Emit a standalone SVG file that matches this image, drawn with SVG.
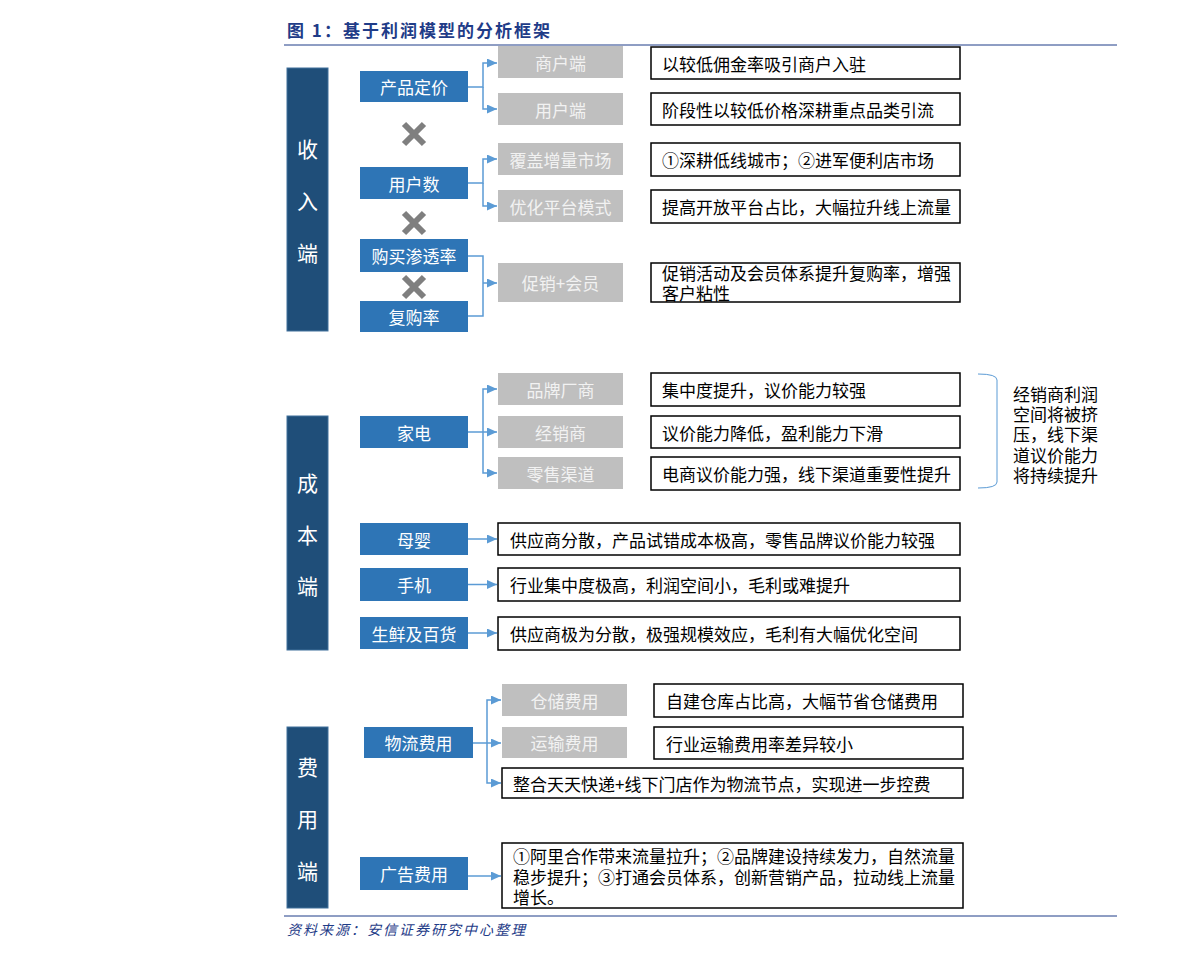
<svg xmlns="http://www.w3.org/2000/svg" width="1191" height="958" viewBox="0 0 1191 958">
<style>
text{font-family:"Noto Sans CJK SC","Liberation Sans",sans-serif;}
.side{fill:#1F4E79;stroke:#41719C;stroke-width:1;}
.sidet{fill:#FFFFFF;font-size:21px;text-anchor:middle;dominant-baseline:central;}
.blue{fill:#2E75B6;}
.bt{fill:#FFFFFF;font-size:17px;text-anchor:middle;dominant-baseline:central;}
.gray{fill:#BFBFBF;}
.gt{fill:#F2F2F2;font-size:17px;text-anchor:middle;dominant-baseline:central;}
.wb{fill:#FFFFFF;stroke:#000000;stroke-width:1.5;}
.wt{fill:#000000;font-size:17px;dominant-baseline:central;}
.conn{fill:none;stroke:#5B9BD5;stroke-width:1.5;}
.x{stroke:#7F7F7F;stroke-width:6;}
.hdr{fill:#1F3C88;}
</style>
<defs>
<marker id="arr" markerWidth="11" markerHeight="10" refX="10" refY="4.5" orient="auto" markerUnits="userSpaceOnUse">
<path d="M0,0 L10,4.5 L0,9 z" fill="#5B9BD5"/>
</marker>
</defs>

<g id="title">
<text x="287" y="37" class="hdr" font-size="17" font-weight="bold" letter-spacing="2">图 1：基于利润模型的分析框架</text>
<line x1="284" y1="45" x2="1117" y2="45" stroke="#1F3C88" stroke-width="1"/>
</g>

<g id="source">
<line x1="284" y1="916" x2="1117" y2="916" stroke="#1F3C88" stroke-width="1"/>
<text x="287" y="935" class="hdr" font-size="14" font-style="italic" letter-spacing="2">资料来源：安信证券研究中心整理</text>
</g>

<!-- side labels -->
<g id="side-revenue"><rect x="287" y="68" width="41" height="263" class="side"/>
<text x="307.5" y="148" class="sidet">收</text><text x="307.5" y="200" class="sidet">入</text><text x="307.5" y="252" class="sidet">端</text></g>
<g id="side-cost"><rect x="287" y="416" width="41" height="234" class="side"/>
<text x="307.5" y="482" class="sidet">成</text><text x="307.5" y="534" class="sidet">本</text><text x="307.5" y="585" class="sidet">端</text></g>
<g id="side-expense"><rect x="287" y="727" width="41" height="181" class="side"/>
<text x="307.5" y="766" class="sidet">费</text><text x="307.5" y="818" class="sidet">用</text><text x="307.5" y="870" class="sidet">端</text></g>

<!-- blue nodes -->
<g id="n-pricing"><rect x="360" y="71" width="108" height="31" class="blue"/><text x="414" y="86.5" class="bt">产品定价</text></g>
<g id="n-users"><rect x="360" y="167" width="108" height="32" class="blue"/><text x="414" y="183" class="bt">用户数</text></g>
<g id="n-penetration"><rect x="360" y="239" width="108" height="33" class="blue"/><text x="414" y="255.5" class="bt">购买渗透率</text></g>
<g id="n-repurchase"><rect x="360" y="301" width="108" height="31" class="blue"/><text x="414" y="316.5" class="bt">复购率</text></g>
<g id="n-appliance"><rect x="360" y="416" width="108" height="32" class="blue"/><text x="414" y="432" class="bt">家电</text></g>
<g id="n-baby"><rect x="360" y="523" width="108" height="32" class="blue"/><text x="414" y="539" class="bt">母婴</text></g>
<g id="n-phone"><rect x="360" y="568" width="108" height="33" class="blue"/><text x="414" y="584.5" class="bt">手机</text></g>
<g id="n-fresh"><rect x="360" y="617" width="108" height="32" class="blue"/><text x="414" y="633" class="bt">生鲜及百货</text></g>
<g id="n-logistics"><rect x="364" y="727" width="109" height="31" class="blue"/><text x="418.5" y="742.5" class="bt">物流费用</text></g>
<g id="n-ads"><rect x="360" y="857" width="108" height="33" class="blue"/><text x="414" y="873.5" class="bt">广告费用</text></g>

<!-- X marks -->
<g id="x-marks">
<path class="x" d="M404,124 L424,144 M424,124 L404,144"/>
<path class="x" d="M404,213 L424,233 M424,213 L404,233"/>
<path class="x" d="M404,277 L424,297 M424,277 L404,297"/>
</g>

<!-- gray nodes -->
<g id="g-merchant"><rect x="498" y="46" width="125" height="32" class="gray"/><text x="560.5" y="62" class="gt">商户端</text></g>
<g id="g-user"><rect x="498" y="93" width="125" height="32" class="gray"/><text x="560.5" y="109" class="gt">用户端</text></g>
<g id="g-cover"><rect x="498" y="143" width="125" height="32" class="gray"/><text x="560.5" y="159" class="gt">覆盖增量市场</text></g>
<g id="g-optimize"><rect x="498" y="190" width="125" height="32" class="gray"/><text x="560.5" y="206" class="gt">优化平台模式</text></g>
<g id="g-promo"><rect x="498" y="263" width="125" height="39" class="gray"/><text x="560.5" y="282.5" class="gt">促销+会员</text></g>
<g id="g-brand"><rect x="498" y="373" width="125" height="32" class="gray"/><text x="560.5" y="389" class="gt">品牌厂商</text></g>
<g id="g-dealer"><rect x="498" y="416" width="125" height="32" class="gray"/><text x="560.5" y="432" class="gt">经销商</text></g>
<g id="g-retail"><rect x="498" y="457" width="125" height="32" class="gray"/><text x="560.5" y="473" class="gt">零售渠道</text></g>
<g id="g-storage"><rect x="502" y="684" width="125" height="32" class="gray"/><text x="564.5" y="700" class="gt">仓储费用</text></g>
<g id="g-transport"><rect x="502" y="727" width="125" height="31" class="gray"/><text x="564.5" y="742.5" class="gt">运输费用</text></g>

<!-- white description boxes -->
<g id="d1"><rect x="651" y="47" width="309" height="32" class="wb"/><text x="662" y="63" class="wt">以较低佣金率吸引商户入驻</text></g>
<g id="d2"><rect x="651" y="93" width="309" height="32" class="wb"/><text x="662" y="109.5" class="wt">阶段性以较低价格深耕重点品类引流</text></g>
<g id="d3"><rect x="651" y="143" width="309" height="33" class="wb"/><text x="662" y="159.5" class="wt">①深耕低线城市；②进军便利店市场</text></g>
<g id="d4"><rect x="651" y="190" width="309" height="33" class="wb"/><text x="662" y="206.5" class="wt">提高开放平台占比，大幅拉升线上流量</text></g>
<g id="d5"><rect x="651" y="263" width="309" height="39" class="wb"/><text x="662" y="272" class="wt">促销活动及会员体系提升复购率，增强</text><text x="662" y="292" class="wt">客户粘性</text></g>
<g id="d6"><rect x="651" y="373" width="309" height="33" class="wb"/><text x="662" y="389.5" class="wt">集中度提升，议价能力较强</text></g>
<g id="d7"><rect x="651" y="416" width="309" height="32" class="wb"/><text x="662" y="432" class="wt">议价能力降低，盈利能力下滑</text></g>
<g id="d8"><rect x="651" y="457" width="309" height="33" class="wb"/><text x="662" y="473.5" class="wt">电商议价能力强，线下渠道重要性提升</text></g>
<g id="d9"><rect x="498" y="523" width="462" height="32" class="wb"/><text x="510" y="539" class="wt">供应商分散，产品试错成本极高，零售品牌议价能力较强</text></g>
<g id="d10"><rect x="498" y="568" width="462" height="33" class="wb"/><text x="510" y="584.5" class="wt">行业集中度极高，利润空间小，毛利或难提升</text></g>
<g id="d11"><rect x="498" y="617" width="462" height="33" class="wb"/><text x="510" y="633.5" class="wt">供应商极为分散，极强规模效应，毛利有大幅优化空间</text></g>
<g id="d12"><rect x="654" y="684" width="309" height="33" class="wb"/><text x="666" y="700.5" class="wt">自建仓库占比高，大幅节省仓储费用</text></g>
<g id="d13"><rect x="654" y="727" width="309" height="32" class="wb"/><text x="666" y="743" class="wt">行业运输费用率差异较小</text></g>
<g id="d14"><rect x="502" y="768" width="461" height="30" class="wb"/><text x="513" y="783" class="wt">整合天天快递+线下门店作为物流节点，实现进一步控费</text></g>
<g id="d15"><rect x="502" y="843" width="461" height="65" class="wb"/>
<text x="513" y="855" class="wt">①阿里合作带来流量拉升；②品牌建设持续发力，自然流量</text>
<text x="513" y="876" class="wt">稳步提升；③打通会员体系，创新营销产品，拉动线上流量</text>
<text x="513" y="896" class="wt">增长。</text></g>

<!-- bracket note -->
<g id="note">
<path d="M978,374 Q997,374 997,380 V482 Q997,488 978,488" fill="none" stroke="#5B9BD5" stroke-width="1"/>
<text x="1013" y="393" class="wt">经销商利润</text>
<text x="1013" y="413" class="wt">空间将被挤</text>
<text x="1013" y="433.5" class="wt">压，线下渠</text>
<text x="1013" y="454" class="wt">道议价能力</text>
<text x="1013" y="474" class="wt">将持续提升</text>
</g>

<!-- connectors -->
<g id="connectors">
<path class="conn" d="M468,87 H483 V63 H497" marker-end="url(#arr)"/>
<path class="conn" d="M483,87 V109 H497" marker-end="url(#arr)"/>
<path class="conn" d="M468,183 H483 V159 H497" marker-end="url(#arr)"/>
<path class="conn" d="M483,183 V206 H497" marker-end="url(#arr)"/>
<path class="conn" d="M468,256 H483 V316 H468"/>
<path class="conn" d="M483,283 H497" marker-end="url(#arr)"/>
<path class="conn" d="M468,432 H497" marker-end="url(#arr)"/>
<path class="conn" d="M483,432 V389 H497" marker-end="url(#arr)"/>
<path class="conn" d="M483,432 V473 H497" marker-end="url(#arr)"/>
<path class="conn" d="M468,539 H497" marker-end="url(#arr)"/>
<path class="conn" d="M468,584.5 H497" marker-end="url(#arr)"/>
<path class="conn" d="M468,633 H497" marker-end="url(#arr)"/>
<path class="conn" d="M473,743 H501" marker-end="url(#arr)"/>
<path class="conn" d="M487,743 V700 H501" marker-end="url(#arr)"/>
<path class="conn" d="M487,743 V783 H501" marker-end="url(#arr)"/>
<path class="conn" d="M468,876 H501" marker-end="url(#arr)"/>
</g>
</svg>
